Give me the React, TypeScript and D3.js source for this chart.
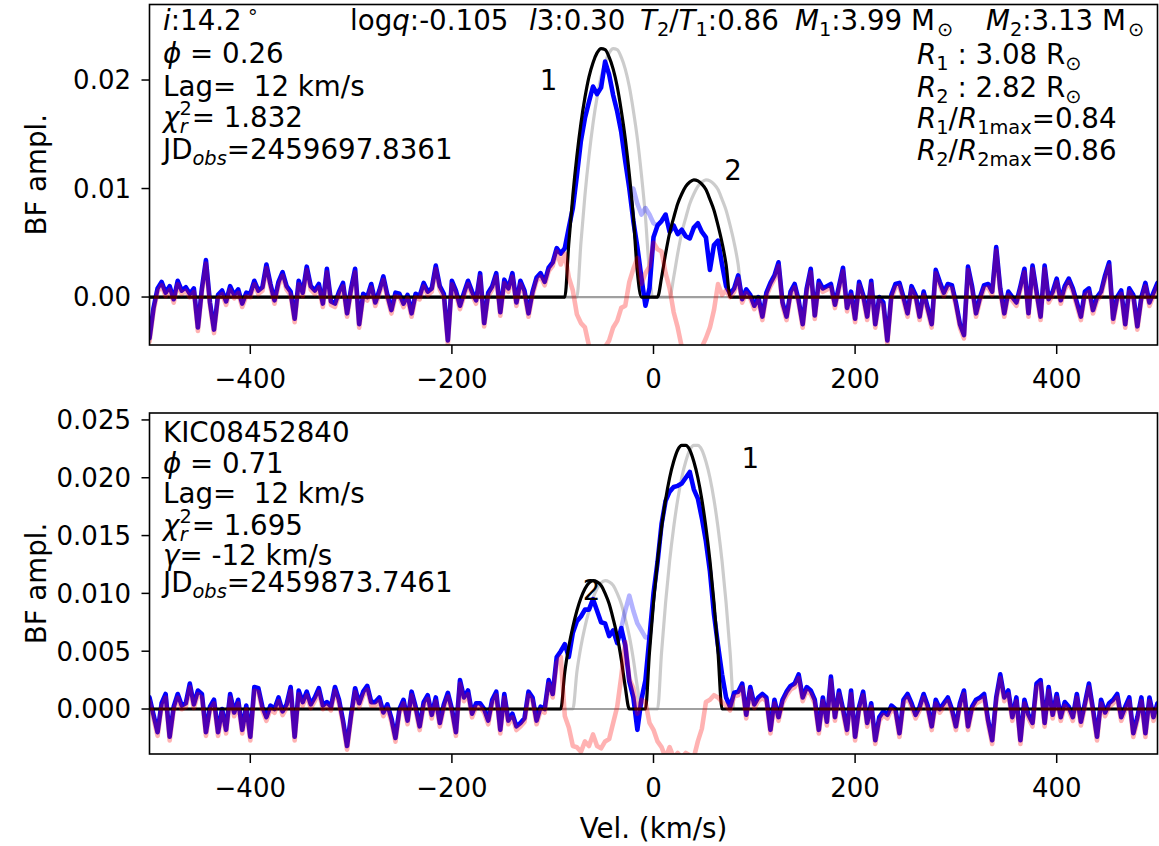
import React from "react";
import * as d3 from "d3";

const W = 1159;
const H = 846;
const FONT = "'DejaVu Sans', sans-serif";
const FS_TEXT = 27.7;
const FS_TICK = 26;

// ---------- data ----------
const V_START = -500; // km/s, first sample of the BF grid
const V_STEP = 4; // km/s
const UNIT = 1e-4; // BF amplitudes below are in units of 1e-4
const LAG = 12; // km/s shift of the grey (lagged) model
const RES_SHIFT = -3.2; // residual outside the peaks sits slightly below the BF (1e-4 units)

const xDomain = [-500, 500];
const xTicks = [-400, -200, 0, 200, 400];
const yDomainTop = [-0.00442, 0.02696];
const yDomainBottom = [-0.00389, 0.0256];
const yTicksTop = [0, 0.01, 0.02];
const yTicksBottom = [0, 0.005, 0.01, 0.015, 0.02, 0.025];

// observed broadening function, top (phase 0.26), v = -500..500 step 4
const obsTop = [
  -38, -10, 8, 14, 4, 10, -2, 15, 6, 9,
  3, 8, -28, 8, 34, -5, -30, 2, 6, -4,
  10, 2, 7, -6, 4, 3, 15, 6, 9, 30,
  12, -3, 14, 23, 10, 5, -20, 15, 4, 28,
  10, 6, 12, -6, 26, -4, -6, 5, 13, -15,
  8, 26, -25, 3, 0, 12, -5, 6, 19, 2,
  -12, 4, 3, -6, 2, -15, 3, 1, 13, 5,
  8, 29, 10, 3, -40, 15, 6, -8, 4, 15,
  5, -3, 22, -24, 4, 10, 22, -14, 16, 8,
  22, -5, 15, 6, -15, 5, 18, 22, 14, 27,
  32, 45, 40, 45, 64, 82, 112, 144, 165, 180,
  194, 187, 193, 217, 205, 186, 171, 152, 125, 100,
  70, 46, 18, -8, 8, 55, 66, 70, 76, 60,
  66, 58, 62, 56, 54, 64, 68, 60, 55, 25,
  48, 52, 30, 10, 3, 8, 20, -2, 7, 2,
  -8, 0, -18, 4, 13, 20, 32, -5, -18, 5,
  12, -3, -25, 8, 26, -17, 15, 8, 10, 12,
  -7, 10, 27, -10, 5, -20, 14, 2, -18, 15,
  -25, 0, -5, -40, 2, 12, 13, 0, -15, 10,
  2, -18, 5, -10, -25, 25, 14, 4, 12, 11,
  -5, -25, -35, 28, 10, -15, 0, 11, 12, 5,
  46, 8, -15, 5, 0, -5, 10, 26, -15, 29,
  5, -18, 29, -2, 5, 17, -3, 10, 17, 8,
  -5, -18, 5, 8, -12, 0, 5, 20, 32, -20,
  0, 6, -25, 8, 2, -27, 0, 13, -5, 4,
  13,
];
// faint (masked) part of the observed BF between the peaks
const maskTopStart = -24;
const maskTop = [100, 100, 86, 76, 82, 76, 68, 66];
// fitted model (black), v = -88..76 step 4
const modelTopStart = -88;
const modelTop = [
  0, 50, 94, 130, 160, 184, 203, 216, 225, 229, 228, 221, 210, 194, 172, 146, 113, 74, 23, 0,
  0, 0, 0, 0,
  18, 40, 59, 73, 86, 95, 102, 106, 108, 107, 104, 99, 90, 80, 66, 50, 30,
  0,
];
// residual (pink) across the peaks, v = -96..76 step 4
const resTopStart = -96;
const resTop = [
  42, 30, 40, 18, 6, -16, -24, -28, -45, -50,
  -50, -50, -46, -40, -28, -22, -10, -8, 14, 26,
  36, 12, 22, 28, 50, 44, 42, 22, 8, -14,
  -28, -46, -50, -50, -50, -50, -46, -38, -28, -12,
  12, 2, 6, 0,
];

// observed broadening function, bottom (phase 0.71)
const obsBottom = [
  10, -5, -20, 5, 13, -24, 2, 13, 3, 5,
  22, 4, 16, 13, -20, 2, 8, -20, 0, -18,
  13, -3, 8, -18, 3, -24, 19, 18, 2, -7,
  3, 0, 10, -2, 4, 19, -24, 16, 6, 15,
  4, 10, 18, 3, 6, 2, 19, 8, -10, -32,
  -5, 18, 5, 15, 20, 6, 6, 10, -3, 4,
  -8, -25, 0, 8, -10, 15, 2, -15, 6, 12,
  -5, 10, -12, 4, 14, 0, -20, 25, 10, 16,
  -4, 5, 5, 0, -10, 8, 15, -18, 13, -10,
  -4, -15, -12, -8, 15, 10, -10, 2, 0, 25,
  13, 45, 50, 56, 45, 66, 76, 80, 86, 86,
  95, 85, 75, 74, 63, 68, 57, 70, 55, 24,
  10, -18, 8, 25, 62, 100, 127, 160, 180, 188,
  192, 193, 195, 200, 205, 190, 182, 165, 145, 119,
  82, 55, 30, 10, 2, 14, 15, 22, -5, 19,
  4, 10, 13, 10, -18, 8, -7, 8, 15, 20,
  22, 30, 10, 19, 16, 8, -18, 10, -11, 28,
  -7, 16, 0, -18, 16, -24, 2, 15, -12, 5,
  -27, -7, -2, -5, 3, 0, -21, 8, 13, 5,
  -5, 2, 13, 3, -15, 8, 0, 5, 10, 0,
  -15, 5, 16, -15, 2, 8, 10, 13, -10, -27,
  10, 30, 10, 16, -7, 10, -27, 8, -5, -12,
  22, 25, -12, 19, -5, 13, -7, 6, 2, -7,
  13, -11, 5, 22, 0, -24, 8, -3, 5, 8,
  13, -7, 2, 10, -21, -7, 10, -21, 10, -7,
  5,
];
const maskBottomStart = -32;
const maskBottom = [70, 85, 98, 85, 74, 68, 62, 62];
const modelBottomStart = -92;
const modelBottom = [
  0, 32, 54, 71, 85, 96, 104, 109, 111, 110, 107, 100, 91, 78, 63, 43, 19,
  0, 0, 0, 0, 0,
  49, 92, 128, 157, 181, 200, 214, 224, 228, 228, 224, 214, 200, 181, 157, 128, 92, 49,
  0,
];
const resBottomStart = -100;
const resBottom = [
  10, 40, 45, -6, -16, -32, -33, -37, -28, -32,
  -22, -32, -34, -28, -26, -12, 2, 28, 58, 26,
  18, -4, 8, 6, -12, -18, -28, -33, -42, -33,
  -42, -38, -42, -38, -40, -42, -28, -17, 6, 8,
  12, 10, 6, 3,
];

// component labels [text, velocity, amplitude]
const labelsTop: [string, number, number][] = [
  ["1", -104, 0.0191],
  ["2", 79, 0.0108],
];
const labelsBottom: [string, number, number][] = [
  ["1", 96, 0.02085],
  ["2", -61.5, 0.0094],
];

// ---------- layout ----------
const AX_L = 149.5;
const AX_R = 1157.5;
const TOP_PANEL = { top: 4.5, bottom: 345 };
const BOT_PANEL = { top: 413, bottom: 754 };

type Seg = { t: string; it?: boolean; sub?: boolean; sup?: boolean; dx?: number };

function Rich({ x, y, segs, fs = FS_TEXT }: { x: number; y: number; segs: Seg[]; fs?: number }) {
  let cur = 0;
  const spans = segs.map((s, i) => {
    const target = s.sub ? fs * 0.22 : s.sup ? -fs * 0.42 : 0;
    const dy = target - cur;
    cur = target;
    return (
      <tspan
        key={i}
        dy={dy}
        dx={s.dx}
        fontStyle={s.it ? "italic" : "normal"}
        fontSize={s.sub || s.sup ? fs * 0.7 : fs}
      >
        {s.t}
      </tspan>
    );
  });
  return (
    <text x={x} y={y} fontSize={fs} fontFamily={FONT} fill="#000" style={{ whiteSpace: "pre" }}>
      {spans}
    </text>
  );
}

type PanelProps = {
  id: string;
  top: number;
  bottom: number;
  yDomain: number[];
  yTicks: number[];
  yFmt: (v: number) => string;
  obs: number[];
  maskStart: number;
  mask: number[];
  modelStart: number;
  model: number[];
  resStart: number;
  res: number[];
  labels: [string, number, number][];
};

function Panel(p: PanelProps) {
  const x = d3.scaleLinear().domain(xDomain).range([AX_L, AX_R]);
  const y = d3.scaleLinear().domain(p.yDomain).range([p.bottom, p.top]);
  const grid = p.obs.map((_, i) => V_START + i * V_STEP);
  const at = (start: number, arr: number[], v: number) => {
    const k = Math.round((v - start) / V_STEP);
    return k >= 0 && k < arr.length ? k : -1;
  };

  const obsPts: [number, number][] = grid.map((v, i) => [v, p.obs[i]]);
  const maskPts: [number, number][] = p.mask.map((a, i) => [p.maskStart + i * V_STEP, a]);
  const modelCore: [number, number][] = p.model.map((a, i) => [p.modelStart + i * V_STEP, a]);
  const modelPts: [number, number][] = [[xDomain[0], 0], ...modelCore, [xDomain[1], 0]];
  const grayPts: [number, number][] = [
    [xDomain[0], 0],
    ...modelCore.map(([v, a]) => [v + LAG, a] as [number, number]),
    [xDomain[1], 0],
  ];
  // residual: read values across the peaks, elsewhere the BF itself (model is zero there)
  const resPts: [number, number][] = grid.map((v, i) => {
    const k = at(p.resStart, p.res, v);
    return [v, k >= 0 ? p.res[k] : p.obs[i] + RES_SHIFT];
  });

  const lin = d3
    .line<[number, number]>()
    .x((d) => x(d[0]))
    .y((d) => y(d[1] * UNIT));
  const smooth = d3
    .line<[number, number]>()
    .x((d) => x(d[0]))
    .y((d) => y(d[1] * UNIT))
    .curve(d3.curveMonotoneX);

  const clip = `clip-${p.id}`;
  const fmtX = (v: number) => (v < 0 ? "\u2212" + Math.abs(v) : String(v));

  return (
    <g>
      <defs>
        <clipPath id={clip}>
          <rect x={AX_L} y={p.top} width={AX_R - AX_L} height={p.bottom - p.top} />
        </clipPath>
      </defs>
      <g clipPath={`url(#${clip})`} fill="none" strokeLinejoin="round" strokeLinecap="round">
        <path d={smooth(grayPts) || ""} stroke="#000" strokeOpacity={0.2} strokeWidth={3.2} />
        <line x1={AX_L} x2={AX_R} y1={y(0)} y2={y(0)} stroke="#808080" strokeOpacity={0.75} strokeWidth={2.2} />
        <path d={lin(obsPts) || ""} stroke="#0000ff" strokeWidth={4.6} />
        <path d={lin(maskPts) || ""} stroke="#0000ff" strokeOpacity={0.3} strokeWidth={4.6} />
        <path d={smooth(modelPts) || ""} stroke="#000" strokeWidth={3.2} />
        <path d={lin(resPts) || ""} stroke="#ff0000" strokeOpacity={0.3} strokeWidth={4.6} />
      </g>
      {p.labels.map(([t, v, a]) => (
        <text key={t} x={x(v)} y={y(a)} textAnchor="middle" fontSize={FS_TEXT} fontFamily={FONT}>
          {t}
        </text>
      ))}
      <rect
        x={AX_L}
        y={p.top}
        width={AX_R - AX_L}
        height={p.bottom - p.top}
        fill="none"
        stroke="#000"
        strokeWidth={1.6}
      />
      {xTicks.map((t) => (
        <g key={t}>
          <line x1={x(t)} x2={x(t)} y1={p.bottom} y2={p.bottom + 9} stroke="#000" strokeWidth={1.5} />
          <text x={x(t)} y={p.bottom + 43} textAnchor="middle" fontSize={FS_TICK} fontFamily={FONT}>
            {fmtX(t)}
          </text>
        </g>
      ))}
      {p.yTicks.map((t) => (
        <g key={t}>
          <line x1={AX_L - 8} x2={AX_L} y1={y(t)} y2={y(t)} stroke="#000" strokeWidth={1.5} />
          <text
            x={131}
            y={y(t) + FS_TICK * 0.36}
            textAnchor="end"
            fontSize={FS_TICK}
            fontFamily={FONT}
          >
            {p.yFmt(t)}
          </text>
        </g>
      ))}
      <text
        transform={`translate(46, ${(p.top + p.bottom) / 2}) rotate(-90)`}
        textAnchor="middle"
        fontSize={FS_TEXT}
        fontFamily={FONT}
      >
        BF ampl.
      </text>
    </g>
  );
}

const chi = (val: string): Seg[] => [
  { t: "χ", it: true },
  { t: "2", sup: true },
  { t: "r", sub: true, it: true, dx: -12 },
  { t: "= " + val, dx: 4 },
];

export default function App() {
  const f2 = d3.format(".2f");
  const f3 = d3.format(".3f");
  return (
    <svg
      width={W}
      height={H}
      viewBox={`0 0 ${W} ${H}`}
      style={{ position: "absolute", left: 0, top: 0, background: "#fff" }}
    >
      <rect width={W} height={H} fill="#fff" />
      <Panel
        id="top"
        top={TOP_PANEL.top}
        bottom={TOP_PANEL.bottom}
        yDomain={yDomainTop}
        yTicks={yTicksTop}
        yFmt={(v) => f2(v)}
        obs={obsTop}
        maskStart={maskTopStart}
        mask={maskTop}
        modelStart={modelTopStart}
        model={modelTop}
        resStart={resTopStart}
        res={resTop}
        labels={labelsTop}
      />
      <Panel
        id="bot"
        top={BOT_PANEL.top}
        bottom={BOT_PANEL.bottom}
        yDomain={yDomainBottom}
        yTicks={yTicksBottom}
        yFmt={(v) => f3(v)}
        obs={obsBottom}
        maskStart={maskBottomStart}
        mask={maskBottom}
        modelStart={modelBottomStart}
        model={modelBottom}
        resStart={resBottomStart}
        res={resBottom}
        labels={labelsBottom}
      />

      {/* top panel annotations */}
      <Rich x={163} y={30} segs={[{ t: "i", it: true }, { t: ":14.2" }, { t: "∘", sup: true, dx: 5 }]} />
      <Rich x={350} y={30} segs={[{ t: "log" }, { t: "q", it: true }, { t: ":-0.105" }]} />
      <Rich x={529} y={30} segs={[{ t: "l", it: true }, { t: "3:0.30" }]} />
      <Rich
        x={640}
        y={30}
        segs={[
          { t: "T", it: true },
          { t: "2", sub: true },
          { t: "/" },
          { t: "T", it: true },
          { t: "1", sub: true },
          { t: ":0.86" },
        ]}
      />
      <Rich x={795} y={30} segs={[{ t: "M", it: true }, { t: "1", sub: true }, { t: ":3.99 M" }, { t: "⊙", sub: true, dx: 2 }]} />
      <Rich x={986} y={30} segs={[{ t: "M", it: true }, { t: "2", sub: true }, { t: ":3.13 M" }, { t: "⊙", sub: true, dx: 2 }]} />
      <Rich x={163} y={63} segs={[{ t: "ϕ", it: true }, { t: " = 0.26" }]} />
      <Rich x={163} y={96} segs={[{ t: "Lag=  12 km/s" }]} />
      <Rich x={163} y={127} segs={chi("1.832")} />
      <Rich x={163} y={159} segs={[{ t: "JD" }, { t: "obs", sub: true, it: true }, { t: "=2459697.8361" }]} />
      <Rich x={917} y={64} segs={[{ t: "R", it: true }, { t: "1", sub: true }, { t: " : 3.08 R" }, { t: "⊙", sub: true }]} />
      <Rich x={917} y={97} segs={[{ t: "R", it: true }, { t: "2", sub: true }, { t: " : 2.82 R" }, { t: "⊙", sub: true }]} />
      <Rich
        x={917}
        y={128}
        segs={[
          { t: "R", it: true },
          { t: "1", sub: true },
          { t: "/" },
          { t: "R", it: true },
          { t: "1max", sub: true },
          { t: "=0.84" },
        ]}
      />
      <Rich
        x={917}
        y={160}
        segs={[
          { t: "R", it: true },
          { t: "2", sub: true },
          { t: "/" },
          { t: "R", it: true },
          { t: "2max", sub: true },
          { t: "=0.86" },
        ]}
      />

      {/* bottom panel annotations */}
      <Rich x={163} y={442} segs={[{ t: "KIC08452840" }]} />
      <Rich x={163} y={473} segs={[{ t: "ϕ", it: true }, { t: " = 0.71" }]} />
      <Rich x={163} y={503} segs={[{ t: "Lag=  12 km/s" }]} />
      <Rich x={163} y={535} segs={chi("1.695")} />
      <Rich x={163} y={565} segs={[{ t: "γ", it: true }, { t: "= -12 km/s" }]} />
      <Rich x={163} y={592} segs={[{ t: "JD" }, { t: "obs", sub: true, it: true }, { t: "=2459873.7461" }]} />

      <text x={(AX_L + AX_R) / 2} y={838} textAnchor="middle" fontSize={FS_TEXT} fontFamily={FONT}>
        Vel. (km/s)
      </text>
    </svg>
  );
}
